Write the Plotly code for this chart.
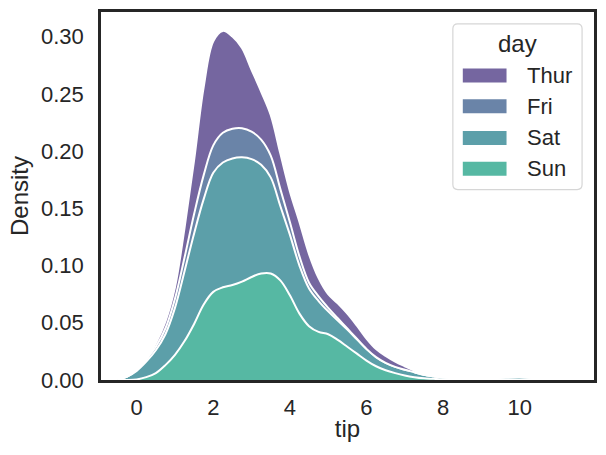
import plotly.graph_objects as go

# ---- data ----
tip_grid = [-0.5, -0.25, 0.0, 0.25, 0.5, 0.75, 1.0, 1.25, 1.5, 1.75, 2.0, 2.25, 2.5, 2.75,
            3.0, 3.25, 3.5, 3.75, 4.0, 4.25, 4.5, 4.75, 5.0, 5.25, 5.5, 5.75, 6.0, 6.25,
            6.5, 6.75, 7.0, 7.25, 7.5, 7.75, 8.0, 8.5, 9.0, 9.5, 10.0, 10.5, 11.0, 11.5]

density_sun = [0, 0, 0.0005, 0.0025, 0.006, 0.013, 0.022, 0.034, 0.049, 0.066, 0.077, 0.081,
               0.083, 0.086, 0.090, 0.093, 0.093, 0.087, 0.074, 0.058, 0.047, 0.042, 0.040,
               0.035, 0.029, 0.023, 0.017, 0.012, 0.0085, 0.006, 0.004, 0.0025, 0.0015, 0.001,
               0.0005, 0.0002, 0, 0, 0, 0, 0, 0]
density_sat = [0.0005, 0.003, 0.0075, 0.0135, 0.020, 0.027, 0.041, 0.061, 0.079, 0.092, 0.104,
               0.109, 0.1105, 0.1085, 0.103, 0.095, 0.084, 0.065, 0.053, 0.042, 0.033, 0.027,
               0.020, 0.017, 0.015, 0.0125, 0.010, 0.008, 0.0065, 0.0055, 0.005, 0.0043, 0.003,
               0.0022, 0.0017, 0.0012, 0.0014, 0.002, 0.0024, 0.0016, 0.0005, 0]
density_fri = [0, 0, 0.001, 0.002, 0.003, 0.005, 0.008, 0.012, 0.017, 0.021, 0.024, 0.026,
               0.026, 0.0255, 0.024, 0.022, 0.019, 0.015, 0.011, 0.008, 0.005, 0.004, 0.003,
               0.002, 0.001, 0.0005, 0.0002, 0, 0, 0, 0, 0, 0, 0, 0, 0, 0, 0, 0, 0, 0, 0]
density_thur = [0, 0, 0, 0, 0.003, 0.006, 0.010, 0.026, 0.047, 0.077, 0.091, 0.089, 0.0805,
                0.070, 0.054, 0.042, 0.0355, 0.031, 0.027, 0.030, 0.025, 0.016, 0.012, 0.013,
                0.013, 0.0115, 0.009, 0.007, 0.006, 0.0045, 0.003, 0.0015, 0, 0, 0, 0, 0, 0,
                0, 0, 0, 0]

days = ["Thur", "Fri", "Sat", "Sun"]
day_colors = {"Thur": "#7566a0", "Fri": "#6a84a8", "Sat": "#5c9fa9", "Sun": "#56b8a3"}
series = {"Thur": density_thur, "Fri": density_fri, "Sat": density_sat, "Sun": density_sun}

x_ticks = [0, 2, 4, 6, 8, 10]
y_ticks = [0.0, 0.05, 0.10, 0.15, 0.20, 0.25, 0.30]

FONT = "Liberation Sans, Arial, sans-serif"
INK = "#262626"

fig = go.Figure()
# stack from bottom (Sun) to top (Thur)
for d in ["Sun", "Sat", "Fri", "Thur"]:
    fig.add_trace(go.Scatter(
        x=tip_grid, y=series[d], name=d, stackgroup="one", mode="lines",
        line=dict(color="white", width=2, shape="spline", smoothing=1.0),
        fillcolor=day_colors[d], showlegend=False, hoverinfo="skip"))

# plot-area geometry in pixels
W, H = 606, 455
L, R, T, B = 101, 9, 9, 75
pw, ph = W - L - R, H - T - B


def px(xp):
    return (xp - L) / pw


def py(yp):
    return (H - B - yp) / ph


# manual legend (seaborn style)
shapes = []
bx0, bx1, by0, by1 = 455, 585, 21, 188
r = 5
path = (f"M {px(bx0 + r)},{py(by0)} L {px(bx1 - r)},{py(by0)} "
        f"Q {px(bx1)},{py(by0)} {px(bx1)},{py(by0 + r)} "
        f"L {px(bx1)},{py(by1 - r)} Q {px(bx1)},{py(by1)} {px(bx1 - r)},{py(by1)} "
        f"L {px(bx0 + r)},{py(by1)} Q {px(bx0)},{py(by1)} {px(bx0)},{py(by1 - r)} "
        f"L {px(bx0)},{py(by0 + r)} Q {px(bx0)},{py(by0)} {px(bx0 + r)},{py(by0)} Z")
shapes.append(dict(type="path", xref="paper", yref="paper", path=path,
                   line=dict(color="#d6d6d6", width=1.2), fillcolor="rgba(255,255,255,0.8)"))
annotations = [dict(text="day", x=px(520), y=py(41), xref="paper", yref="paper",
                    showarrow=False, xanchor="center", yanchor="middle",
                    font=dict(family=FONT, size=24, color=INK))]
centers = [73, 104, 136, 167]
for d, cy in zip(days, centers):
    shapes.append(dict(type="rect", xref="paper", yref="paper",
                       x0=px(465), x1=px(509), y0=py(cy - 7), y1=py(cy + 7),
                       line=dict(width=0), fillcolor=day_colors[d]))
    annotations.append(dict(text=d, x=px(528), y=py(cy), xref="paper", yref="paper",
                            showarrow=False, xanchor="left", yanchor="middle",
                            font=dict(family=FONT, size=22, color=INK)))

fig.update_layout(
    width=W, height=H,
    margin=dict(l=L, r=R, t=T, b=B, pad=0),
    paper_bgcolor="white", plot_bgcolor="white",
    font=dict(family=FONT, size=22, color=INK),
    shapes=shapes, annotations=annotations,
    showlegend=False,
)
fig.update_xaxes(
    range=[-0.931, 11.94], tickvals=x_ticks, ticktext=[str(v) for v in x_ticks],
    showgrid=False, zeroline=False, showline=True, mirror=True,
    linecolor=INK, linewidth=2.5, ticks="", ticklabelstandoff=6,
    title=dict(text="tip", font=dict(family=FONT, size=24, color=INK), standoff=2),
    tickfont=dict(family=FONT, size=22, color=INK))
fig.update_yaxes(
    range=[0, 0.3215], tickvals=y_ticks, ticktext=[f"{v:.2f}" for v in y_ticks],
    showgrid=False, zeroline=False, showline=True, mirror=True,
    linecolor=INK, linewidth=2.5, ticks="", ticklabelstandoff=10,
    title=dict(text="Density", font=dict(family=FONT, size=24, color=INK), standoff=6),
    tickfont=dict(family=FONT, size=22, color=INK))

fig.write_html("out.html")
